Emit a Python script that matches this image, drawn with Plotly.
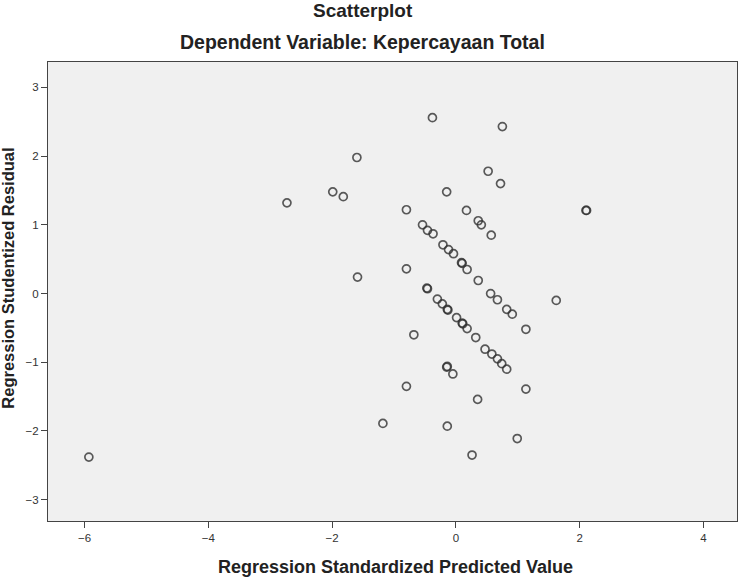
import plotly.graph_objects as go

# Regression Standardized Predicted Value
pred = [-5.93, -2.73, -1.99, -1.82, -1.60, -1.59, -0.80, -0.80, -0.68, -0.80,
        -1.18, -0.38, -0.15, 0.75, 0.52, 0.72, 0.17, 0.36, 0.41, 0.57,
        2.10, 2.11, 1.62, 1.13, 1.13, 0.99, 0.26, -0.14, 0.35, -0.15,
        -0.14, -0.05,
        -0.54, -0.46, -0.37, -0.21, -0.12, -0.04, 0.09, 0.10, 0.18, 0.36,
        -0.47, -0.46, -0.30, -0.22, -0.14, -0.13, 0.01, 0.10, 0.11, 0.18,
        0.32, 0.47, 0.58, 0.67, 0.74, 0.82,
        0.56, 0.67, 0.82, 0.91]
# Regression Studentized Residual
resid = [-2.38, 1.32, 1.48, 1.41, 1.98, 0.24, 1.22, 0.36, -0.60, -1.35,
         -1.89, 2.56, 1.48, 2.43, 1.78, 1.60, 1.21, 1.06, 1.00, 0.85,
         1.21, 1.21, -0.10, -0.52, -1.39, -2.11, -2.35, -1.93, -1.54, -1.07,
         -1.06, -1.17,
         1.00, 0.92, 0.87, 0.71, 0.64, 0.58, 0.45, 0.44, 0.35, 0.19,
         0.08, 0.07, -0.08, -0.15, -0.23, -0.24, -0.35, -0.43, -0.44, -0.51,
         -0.64, -0.81, -0.88, -0.95, -1.02, -1.10,
         0.00, -0.09, -0.23, -0.30]

x_ticks = [-6, -4, -2, 0, 2, 4]
y_ticks = [-3, -2, -1, 0, 1, 2, 3]

fig = go.Figure()
fig.add_trace(go.Scatter(
    x=pred, y=resid, mode="markers",
    marker=dict(symbol="circle-open", size=8,
                line=dict(width=1.7, color="rgba(50,50,50,0.8)"),
                color="rgba(50,50,50,0.8)"),
    hoverinfo="x+y", showlegend=False))

font = "Liberation Sans, Arial, sans-serif"
fig.update_layout(
    width=739, height=582,
    margin=dict(l=48, r=2, t=62, b=61),
    paper_bgcolor="white", plot_bgcolor="#f0f0f0",
    font=dict(family=font, color="#333333", size=11),
    xaxis=dict(range=[-6.59, 4.54], tickvals=x_ticks, ticks="outside",
               ticklen=6, tickcolor="#444", showgrid=False, zeroline=False,
               showline=True, linecolor="#444", linewidth=1, mirror=True,
               tickfont=dict(size=11.5, color="#333")),
    yaxis=dict(range=[-3.31, 3.37], tickvals=y_ticks, ticks="outside",
               ticklen=6, tickcolor="#444", showgrid=False, zeroline=False,
               showline=True, linecolor="#444", linewidth=1, mirror=True,
               tickfont=dict(size=11.5, color="#333")),
    annotations=[
        dict(text="<b>Scatterplot</b>", x=0.457, y=1.113, xref="paper", yref="paper",
             xanchor="center", yanchor="middle", showarrow=False,
             font=dict(size=19, color="#222")),
        dict(text="<b>Dependent Variable: Kepercayaan Total</b>", x=0.456, y=1.043,
             xref="paper", yref="paper", xanchor="center", yanchor="middle",
             showarrow=False, font=dict(size=19.5, color="#222")),
        dict(text="<b>Regression Standardized Predicted Value</b>", x=0.504, y=-0.1002,
             xref="paper", yref="paper", xanchor="center", yanchor="middle",
             showarrow=False, font=dict(size=18, color="#222")),
        dict(text="<b>Regression Studentized Residual</b>", x=-0.0573, y=0.529,
             xref="paper", yref="paper", xanchor="center", yanchor="middle",
             textangle=-90, showarrow=False, font=dict(size=16.5, color="#222")),
    ],
)

fig.write_html("out.html", config={"displayModeBar": False},
               post_script="document.body.style.margin='0px';")
